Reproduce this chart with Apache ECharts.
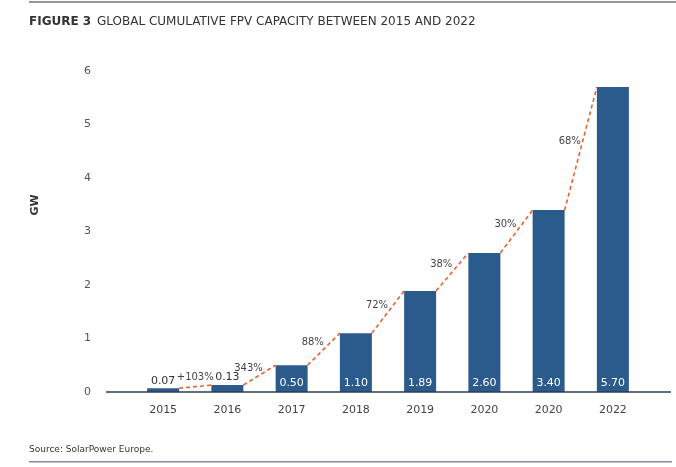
<!DOCTYPE html>
<html lang="en">
<head>
<meta charset="UTF-8">
<title>Global cumulative FPV capacity</title>
<script src="https://cdn.jsdelivr.net/npm/echarts@6/dist/echarts.min.js"></script>
<style>
  html, body { margin: 0; padding: 0; background: #fff; }
  #main { width: 676px; height: 467px; }
</style>
</head>
<body>
<div id="main"></div>
<script>
// data
var years = ['2015', '2016', '2017', '2018', '2019', '2020', '2020', '2022'];
var capacityGW = [0.07, 0.13, 0.50, 1.10, 1.89, 2.60, 3.40, 5.70];
var growthLabels = ['+103%', '343%', '88%', '72%', '38%', '30%', '68%'];
var yTicks = [0, 1, 2, 3, 4, 5, 6];

var FONT = 'DejaVu Sans';
var BAR_W = 32;

var chart = echarts.init(document.getElementById('main'));

// bars too short for an inside label get theirs on top
var barData = capacityGW.map(function (v) {
  if (v < 0.3) {
    return { value: v, label: { position: 'top', distance: 2, color: '#333' } };
  }
  return v;
});

// one dashed segment per step, from a bar's top-right corner to the next bar's top-left corner
var stepData = growthLabels.map(function (g, i) {
  return [i, capacityGW[i], capacityGW[i + 1]];
});

function renderStep(params, api) {
  var i = api.value(0);
  var a = api.coord([i, api.value(1)]);
  var b = api.coord([i + 1, api.value(2)]);
  var x1 = a[0] + BAR_W / 2, y1 = a[1];
  var x2 = b[0] - BAR_W / 2, y2 = b[1];
  var mx = (x1 + x2) / 2, my = (y1 + y2) / 2;
  var shallow = (y1 - y2) < 10;
  var tx = shallow ? mx : mx - 11;
  var ty = shallow ? my - 9 : my - 7;
  return {
    type: 'group',
    children: [
      {
        type: 'line',
        shape: { x1: x1, y1: y1, x2: x2, y2: y2 },
        style: { stroke: '#e8622f', lineWidth: 1.6, lineDash: [4, 3] }
      },
      {
        type: 'text',
        x: tx,
        y: ty,
        style: {
          text: growthLabels[params.dataIndex],
          fill: '#444',
          font: '10px "' + FONT + '"',
          align: 'center',
          verticalAlign: 'middle',
          textAlign: 'center',
          textVerticalAlign: 'middle'
        }
      }
    ]
  };
}

var option = {
  animation: false,
  backgroundColor: '#fff',
  textStyle: { fontFamily: FONT },
  title: {
    left: 29,
    top: 13,
    padding: 0,
    text: '{b|FIGURE 3} {n|GLOBAL CUMULATIVE FPV CAPACITY BETWEEN 2015 AND 2022}',
    textStyle: {
      fontWeight: 'normal',
      rich: {
        b: { fontFamily: FONT, fontSize: 12, fontWeight: 'bold', color: '#333' },
        n: { fontFamily: FONT, fontSize: 12, fontWeight: 'normal', color: '#333' }
      }
    }
  },
  grid: { left: 131, right: 31, top: 71, bottom: 75 },
  xAxis: {
    type: 'category',
    data: years,
    axisLine: { show: false },
    axisTick: { show: false },
    axisLabel: { color: '#444', fontSize: 11, margin: 13 }
  },
  yAxis: {
    type: 'value',
    min: yTicks[0],
    max: yTicks[yTicks.length - 1],
    interval: 1,
    axisLine: { show: false },
    axisTick: { show: false },
    splitLine: { show: false },
    axisLabel: { color: '#555', fontSize: 11, margin: 40 }
  },
  series: [
    {
      type: 'bar',
      data: barData,
      barWidth: BAR_W,
      itemStyle: { color: '#2b5a8c' },
      label: {
        show: true,
        position: 'insideBottom',
        distance: 3,
        color: '#fff',
        fontSize: 11,
        formatter: function (p) { return p.value.toFixed(2); }
      }
    },
    {
      type: 'custom',
      data: stepData,
      encode: { x: 0, y: 1 },
      renderItem: renderStep,
      clip: false,
      z: 3
    }
  ]
};

chart.setOption(option);

// baseline runs wider than the bar area, plus the axis unit, page rules and source note
var y0 = chart.convertToPixel({ yAxisIndex: 0 }, 0);
chart.setOption({
  graphic: [
    { type: 'rect', shape: { x: 29, y: 1, width: 647, height: 2 }, style: { fill: '#9696aa' } },
    { type: 'line', shape: { x1: 106, y1: y0, x2: 671, y2: y0 }, style: { stroke: '#2a3b58', lineWidth: 1.5 }, z: 10 },
    {
      type: 'text', x: 35, y: 205, rotation: Math.PI / 2,
      style: { text: 'GW', fill: '#333', font: 'bold 11px "' + FONT + '"', align: 'center', verticalAlign: 'middle' }
    },
    { type: 'text', x: 29, y: 450, style: { text: 'Source: SolarPower Europe.', fill: '#333', font: '9px "' + FONT + '"', verticalAlign: 'middle' } },
    { type: 'rect', shape: { x: 29, y: 461, width: 643, height: 1.5 }, style: { fill: '#8a8a9e' } }
  ]
});
</script>
</body>
</html>
